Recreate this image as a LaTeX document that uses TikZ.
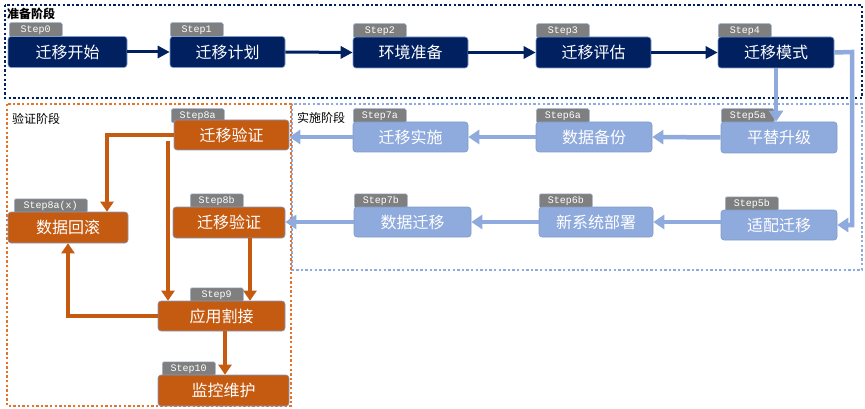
\documentclass[tikz,border=0pt]{standalone}
\usepackage{fontspec}
\newfontfamily\cjk{Noto Sans CJK SC}
\newfontfamily\tabfont{Liberation Mono}
\usetikzlibrary{arrows.meta}
\definecolor{navy}{HTML}{002060}
\definecolor{lblue}{HTML}{8FAADC}
\definecolor{orng}{HTML}{C55A11}
\definecolor{orframe}{HTML}{E4742A}
\definecolor{boxline}{HTML}{7F9CC8}
\definecolor{tabgray}{HTML}{7F7F7F}
\definecolor{tabline}{HTML}{9FB3D1}
\begin{document}
\begin{tikzpicture}[x=1pt,y=-1pt,
  box/.style={rounded corners=3pt, draw=boxline, line width=0.6pt, text=white,
    font=\cjk\fontsize{16}{16}\selectfont, inner sep=0pt, minimum height=31pt},
  navybox/.style={box, fill=navy},
  bluebox/.style={box, fill=lblue},
  orbox/.style={box, fill=orng},
  tabbox/.style={fill=tabgray, draw=tabline, line width=0.5pt, rounded corners=1.5pt,
    minimum width=53pt, minimum height=14pt, inner sep=0pt, text=white,
    font=\tabfont\fontsize{10}{10}\selectfont, anchor=south west},
  framelabel/.style={anchor=west, inner sep=0pt, text=black},
  navyarrow/.style={draw=navy, line width=3pt, -{Triangle[length=12pt,width=12pt]}},
  bluearrow/.style={draw=lblue, line width=4.5pt, -{Triangle[length=11pt,width=14pt]}},
  orarrow/.style={draw=orng, line width=4pt, -{Triangle[length=10pt,width=13pt]}},
  dotframe/.style={line width=2.6pt, dash pattern=on 2.4pt off 2.2pt}
]
\useasboundingbox (0,0) rectangle (865,409);

% frames
\draw[dotframe, navy] (5,5) rectangle (862,98);
\draw[dotframe, lblue] (292,104) rectangle (862,270);
\draw[dotframe, orframe] (7,104) rectangle (291,406);

\node[framelabel, font=\cjk\bfseries\fontsize{12}{12}\selectfont] (l1) at (7,14) {准备阶段};
\node[framelabel, font=\cjk\fontsize{12}{12}\selectfont] (l2) at (297,118) {实施阶段};
\node[framelabel, font=\cjk\fontsize{12}{12}\selectfont] (l3) at (12,119) {验证阶段};

% tabs
\node[tabbox] (t0) at (9,37) {Step0};
\node[tabbox] (t1) at (170,37) {Step1};
\node[tabbox] (t2) at (353,38) {Step2};
\node[tabbox] (t3) at (536,38) {Step3};
\node[tabbox] (t4) at (718,38) {Step4};
\node[tabbox] (t7a) at (353,123) {Step7a};
\node[tabbox] (t6a) at (536,123) {Step6a};
\node[tabbox] (t5a) at (721,123) {Step5a};
\node[tabbox] (t7b) at (354,208) {Step7b};
\node[tabbox] (t6b) at (539,208) {Step6b};
\node[tabbox] (t5b) at (725,211) {Step5b};
\node[tabbox] (t8a) at (171,123) {Step8a};
\node[tabbox] (t8b) at (190,208) {Step8b};
\node[tabbox, minimum width=73pt] (t8x) at (14,213) {Step8a(x)};
\node[tabbox] (t9) at (190,302) {Step9};
\node[tabbox] (t10) at (162,376) {Step10};

% boxes
\node[navybox, minimum width=119pt] (s0) at (67.5,52) {迁移开始};
\node[navybox, minimum width=115pt] (s1) at (227.5,52) {迁移计划};
\node[navybox, minimum width=115pt] (s2) at (410.5,52.5) {环境准备};
\node[navybox, minimum width=115pt] (s3) at (593.5,52.5) {迁移评估};
\node[navybox, minimum width=116pt] (s4) at (776,52.5) {迁移模式};

\node[bluebox, minimum width=115pt, minimum height=30pt] (s7a) at (410.5,137) {迁移实施};
\node[bluebox, minimum width=116pt, minimum height=30pt] (s6a) at (594,137) {数据备份};
\node[bluebox, minimum width=116pt] (s5a) at (779,137.5) {平替升级};
\node[bluebox, minimum width=117pt, minimum height=30pt] (s7b) at (412.5,222) {数据迁移};
\node[bluebox, minimum width=114pt, minimum height=30pt] (s6b) at (596,222) {新系统部署};
\node[bluebox, minimum width=116pt, minimum height=30pt] (s5b) at (779,225) {适配迁移};

\node[orbox, minimum width=115pt, minimum height=30pt] (s8a) at (231.5,135) {迁移验证};
\node[orbox, minimum width=112pt] (s8b) at (229,222.5) {迁移验证};
\node[orbox, minimum width=120pt] (s8x) at (68,227.5) {数据回滚};
\node[orbox, minimum width=127pt, minimum height=30pt] (s9) at (221.5,316) {应用割接};
\node[orbox, minimum width=131pt] (s10) at (223.5,390.5) {监控维护};

% navy arrows
\draw[navyarrow] (s0.east) -- (s1.west);
\draw[navyarrow] (s1.east) -- (s2.west);
\draw[navyarrow] (s2.east) -- (s3.west);
\draw[navyarrow] (s3.east) -- (s4.west);

% light blue arrows
\coordinate (c1) at (852,52);
\draw[bluearrow] (s4.south) -- (s4.south |- s5a.north);
\draw[bluearrow] (s4.east) -- (c1) |- (s5b.east);
\draw[bluearrow] (s5a.west) -- (s6a.east);
\draw[bluearrow] (s6a.west) -- (s7a.east);
\draw[bluearrow] (s7a.west) -- (s7a.west -| s8a.east);
\draw[bluearrow] (s5b.west |- s6b.east) -- (s6b.east);
\draw[bluearrow] (s6b.west) -- (s7b.east);
\draw[bluearrow] (s7b.west) -- (s7b.west -| s8b.east);

% orange arrows
\coordinate (j1) at (168,141);
\draw[orarrow] (s8a.west) -| ([xshift=39pt]s8x.north);
\draw[orarrow] (j1) -- (j1 |- s9.north);
\draw[orarrow] ([xshift=21pt]s8b.south) -- ([xshift=21pt]s8b.south |- s9.north);
\draw[orarrow] (s9.west) -| (s8x.south);
\draw[orarrow] ([xshift=3.5pt]s9.south) -- ([xshift=3.5pt]s9.south |- s10.north);
\end{tikzpicture}
\end{document}
